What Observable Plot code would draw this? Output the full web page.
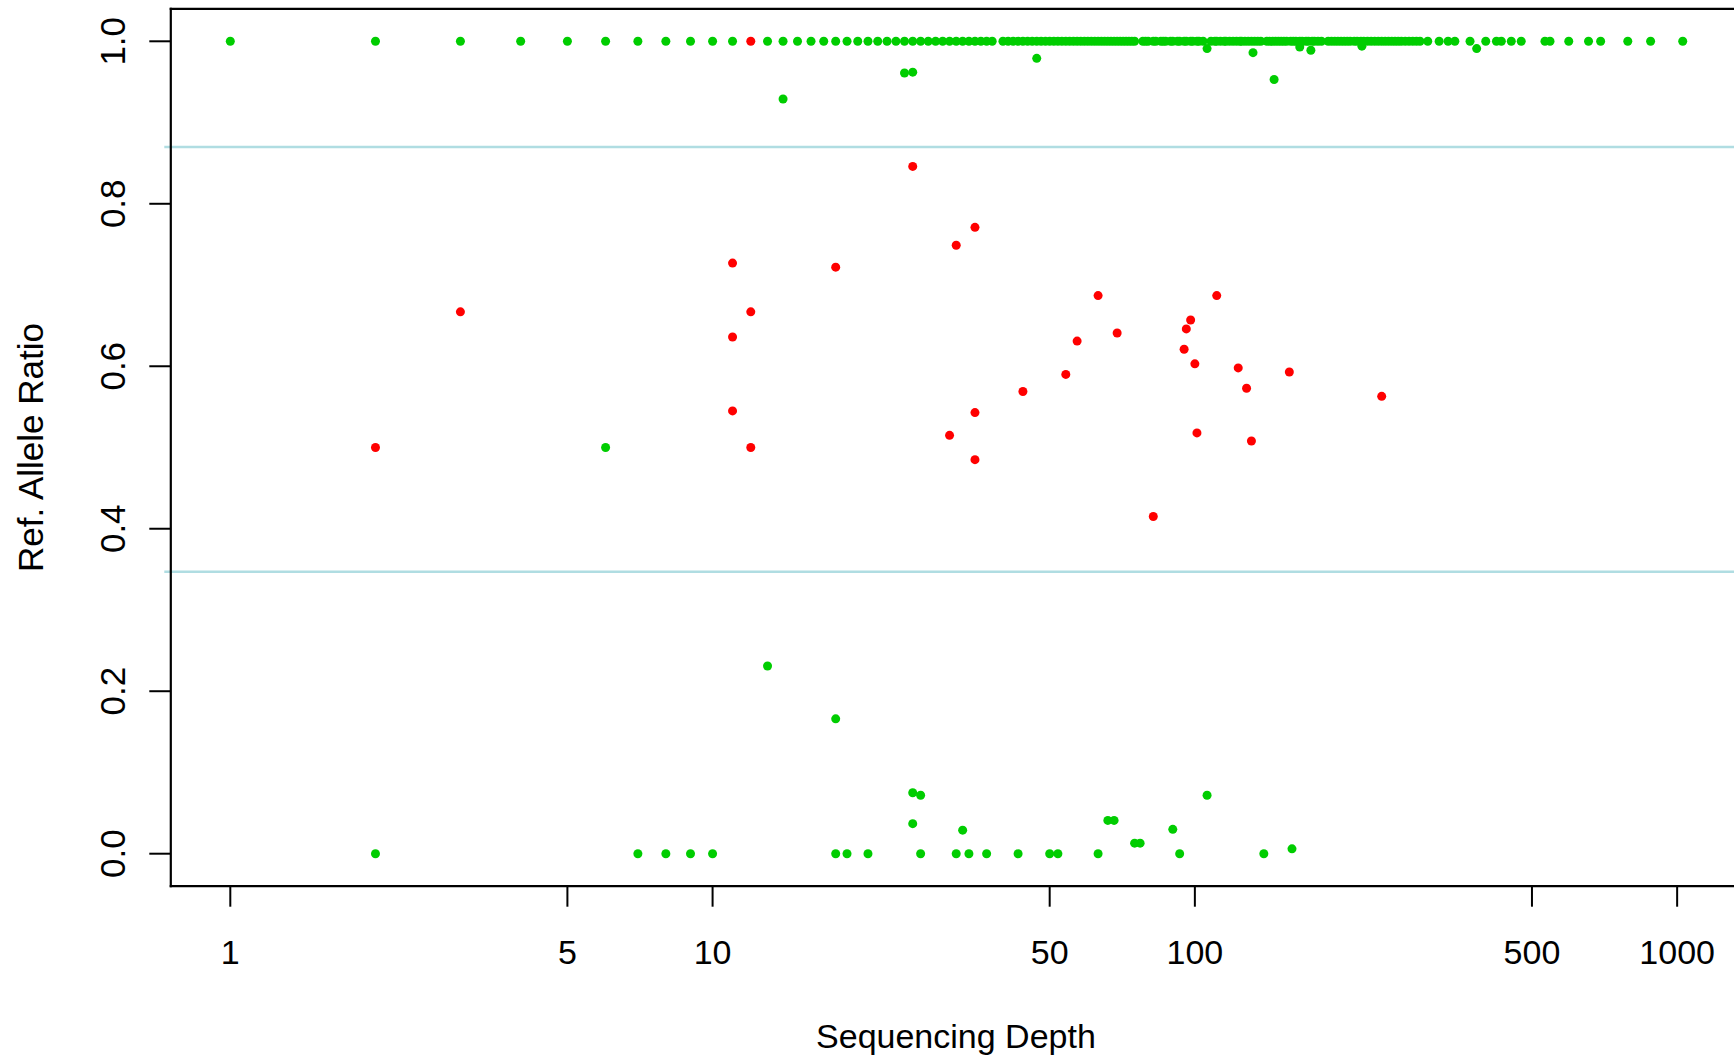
<!DOCTYPE html>
<html>
<head>
<meta charset="utf-8">
<script src="https://cdn.jsdelivr.net/npm/d3@7"></script>
<script src="https://cdn.jsdelivr.net/npm/@observablehq/plot@0.6"></script>
<style>
html, body { margin: 0; padding: 0; background: #fff; overflow: hidden; }
#chart svg { display: block; max-width: none; }
</style>
</head>
<body>
<div id="chart"></div>
<script>
// Green points sitting exactly at ratio 1.0 (depths)
const fullRefDepths = [1,2,3,4,5,6,7,8,9,10,11,13,14,15,16,17,18,19,20,21,22,23,24,25,26,27,28,29,30,31,32,33,34,35,36,37,38,
  40,41,42,43,44,45,46,47,48,49,50,51,52,53,54,55,56,57,58,59,60,61,62,63,64,65,66,67,68,69,70,71,72,73,74,75,
  78,79,80,82,83,85,86,87,89,90,92,93,95,96,98,99,101,102,104,
  108,110,111,113,115,116,118,120,122,124,125,127,129,131,133,135,137,
  141,143,145,147,149,151,153,155,158,160,162,165,167,170,172,175,177,180,183,
  189,192,195,198,201,204,207,210,214,217,221,224,228,232,236,240,244,248,252,256,260,264,268,273,278,283,288,293,
  304,321,335,346,372,401,422,432,453,475,532,545,596,655,694,790,881,1027];

// Green points sitting exactly at ratio 0.0
const zeroRefDepths = [2,7,8,9,10,18,19,21,27,32,34,37,43,50,52,63,93,139];

// Other green points
const greenDepths = [14,25,26,47,106,132,146,165,174,222,384,6,13,18,26,27,26,33,66,68,75,77,90,106,159];
const greenRatios = [0.929,0.961,0.962,0.979,0.991,0.986,0.953,0.993,0.989,0.994,0.991,0.5,0.231,0.166,0.075,0.072,0.037,0.029,0.041,0.041,0.013,0.013,0.030,0.072,0.006];

// Red points
const redDepths = [2,3,11,11,11,12,12,12,18,26,32,35,31,35,35,44,54,57,63,69,82,95,96,98,100,101,111,123,128,131,157,244];
const redRatios = [0.5,0.667,0.727,0.636,0.545,1.0,0.667,0.5,0.722,0.846,0.749,0.771,0.515,0.543,0.485,0.569,0.590,0.631,0.687,0.641,0.415,0.621,0.646,0.657,0.603,0.518,0.687,0.598,0.573,0.508,0.593,0.563];

// Threshold lines
const thresholds = [0.347, 0.87];

// Axis ticks and titles
const xTicks = [1, 5, 10, 50, 100, 500, 1000];
const yTicks = [0, 0.2, 0.4, 0.6, 0.8, 1.0];
const xTitle = "Sequencing Depth";
const yTitle = "Ref. Allele Ratio";

const greenPoints = [
  ...fullRefDepths.map(d => ({depth: d, ratio: 1})),
  ...zeroRefDepths.map(d => ({depth: d, ratio: 0})),
  ...greenDepths.map((d, i) => ({depth: d, ratio: greenRatios[i]}))
];
const redPoints = redDepths.map((d, i) => ({depth: d, ratio: redRatios[i]}));

const FONT = "'Liberation Sans', Arial, Helvetica, sans-serif";

const chart = Plot.plot({
  width: 1734,
  height: 1056,
  marginLeft: 170.3,
  marginRight: 0,
  marginTop: 8.3,
  marginBottom: 170.3,
  style: {fontFamily: FONT, background: "#ffffff", color: "#000000", overflow: "visible"},
  x: {type: "log", domain: [0.7527, 1315], axis: null},
  y: {domain: [-0.04, 1.04], axis: null},
  marks: [
    Plot.ruleY(thresholds, {stroke: "#b0dde2", strokeWidth: 2.5, insetLeft: -6}),
    Plot.dot(greenPoints, {x: "depth", y: "ratio", r: 4.5, fill: "#00cd00", stroke: "none"}),
    Plot.dot(redPoints, {x: "depth", y: "ratio", r: 4.5, fill: "#ff0000", stroke: "none"}),
    Plot.frame({anchor: "left", stroke: "#000", strokeWidth: 2.2}),
    Plot.frame({anchor: "top", stroke: "#000", strokeWidth: 2.2}),
    Plot.frame({anchor: "bottom", stroke: "#000", strokeWidth: 2.2}),
    Plot.axisX({ticks: xTicks, anchor: "bottom", tickSize: 21, tickPadding: 0, strokeWidth: 2, stroke: "#000", tickFormat: () => "", label: null}),
    Plot.axisY({ticks: yTicks, anchor: "left", tickSize: 21, tickPadding: 0, strokeWidth: 2, stroke: "#000", tickFormat: () => "", label: null}),
    Plot.text(xTicks, {x: d => d, frameAnchor: "bottom", dy: 53.5, lineAnchor: "top", textAnchor: "middle",
      fontSize: 34, fill: "#000", text: d => String(d)}),
    Plot.text(yTicks, {y: d => d, frameAnchor: "left", dx: -46, rotate: -90, lineAnchor: "bottom", textAnchor: "middle",
      fontSize: 35, fill: "#000", text: d => d.toFixed(1)}),
    Plot.text([xTitle], {frameAnchor: "bottom", dx: 3.3, dy: 162, lineAnchor: "bottom", textAnchor: "middle",
      fontSize: 34, fill: "#000", text: d => d}),
    Plot.text([yTitle], {frameAnchor: "left", dx: -128, rotate: -90, lineAnchor: "bottom", textAnchor: "middle",
      fontSize: 35, fill: "#000", text: d => d})
  ]
});

document.getElementById("chart").appendChild(chart);
</script>
</body>
</html>
